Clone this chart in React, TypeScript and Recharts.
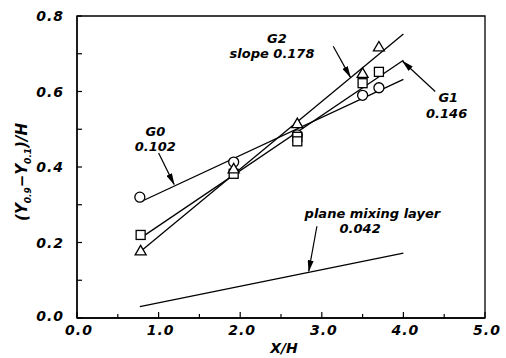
import React from "react";
import {
  ComposedChart,
  Line,
  Scatter,
  XAxis,
  YAxis,
  ReferenceArea,
  ReferenceLine,
  ReferenceDot,
} from "recharts";

// measured points
const g0X = [0.77, 1.92, 2.7, 3.5, 3.7];
const g0Y = [0.32, 0.413, 0.485, 0.59, 0.61];
const g1X = [0.78, 1.92, 2.7, 2.7, 3.5, 3.7];
const g1Y = [0.22, 0.382, 0.48, 0.468, 0.622, 0.652];
const g2X = [0.78, 1.92, 2.7, 3.5, 3.7];
const g2Y = [0.178, 0.395, 0.515, 0.648, 0.718];

// fitted lines (end points)
const fitX = [0.8, 4.0];
const g0FitY = [0.31, 0.632];
const g1FitY = [0.215, 0.683];
const g2FitX = [0.77, 4.0];
const g2FitY = [0.175, 0.752];
const planeX = [0.77, 4.0];
const planeY = [0.03, 0.172];

const xTicks = [0, 0.5, 1, 1.5, 2, 2.5, 3, 3.5, 4, 4.5, 5];
const yTicks = [0, 0.1, 0.2, 0.3, 0.4, 0.5, 0.6, 0.7, 0.8];

const toPts = (xs: number[], ys: number[]) => xs.map((x, i) => ({ x, y: ys[i] }));

const FONT = "'DejaVu Sans', sans-serif";
const textStyle = {
  fontFamily: FONT,
  fontWeight: "bold" as const,
  fontStyle: "italic" as const,
  fill: "#000",
};

const Circle = (p: any) => (
  <circle cx={p.cx} cy={p.cy} r={5} fill="#fff" stroke="#000" strokeWidth={1.3} />
);
const Square = (p: any) => (
  <rect x={p.cx - 4.5} y={p.cy - 4.5} width={9} height={9} fill="#fff" stroke="#000" strokeWidth={1.3} />
);
const Triangle = (p: any) => (
  <path
    d={`M${p.cx},${p.cy - 5.5} L${p.cx + 5.5},${p.cy + 4} L${p.cx - 5.5},${p.cy + 4} Z`}
    fill="#fff"
    stroke="#000"
    strokeWidth={1.3}
  />
);

const XTick = (p: any) => {
  const v = p.payload.value;
  const major = Math.abs(v - Math.round(v)) < 1e-6;
  return (
    <g>
      <line x1={p.x} y1={p.y} x2={p.x} y2={p.y - (major ? 6 : 4)} stroke="#000" strokeWidth={1.2} />
      {major && (
        <text x={p.x + 2} y={p.y + 17} textAnchor="middle" fontSize={14} letterSpacing={1} {...textStyle}>
          {v.toFixed(1)}
        </text>
      )}
    </g>
  );
};

const YTick = (p: any) => {
  const v = p.payload.value;
  const major = Math.abs(v * 5 - Math.round(v * 5)) < 1e-6;
  return (
    <g>
      <line x1={p.x} y1={p.y} x2={p.x + 5} y2={p.y} stroke="#000" strokeWidth={1.2} />
      {major && (
        <text x={p.x - 13} y={p.y + (v === 0 ? 3 : 5)} textAnchor="end" fontSize={14} letterSpacing={1} {...textStyle}>
          {v.toFixed(1)}
        </text>
      )}
    </g>
  );
};

const Note = ({ x, y, text }: { x: number; y: number; text: string }) => (
  <ReferenceDot
    x={x}
    y={y}
    r={0}
    stroke="none"
    fill="none"
    label={{ value: text, position: "center", fontSize: 13, ...textStyle }}
  />
);

const Arrow = ({ from, to }: { from: [number, number]; to: [number, number] }) => (
  <ReferenceLine
    segment={[
      { x: from[0], y: from[1] },
      { x: to[0], y: to[1] },
    ]}
    stroke="#000"
    strokeWidth={1.2}
    markerEnd="url(#arrowHead)"
  />
);

export default function App() {
  return (
    <div style={{ position: "absolute", left: 0, top: 0, width: 506, height: 358, background: "#fff" }}>
      <svg width={0} height={0} style={{ position: "absolute" }}>
        <defs>
          <marker id="arrowHead" markerWidth="12" markerHeight="6" refX="11" refY="3" orient="auto" markerUnits="userSpaceOnUse">
            <path d="M0,0 L12,3 L0,6 Z" fill="#000" />
          </marker>
        </defs>
      </svg>
      <ComposedChart width={506} height={358} margin={{ top: 16, right: 21, bottom: 0, left: 0 }}>
        <XAxis
          dataKey="x"
          type="number"
          domain={[0, 5]}
          ticks={xTicks}
          interval={0}
          height={40}
          tickSize={0}
          tickMargin={0}
          tick={<XTick />}
          axisLine={{ stroke: "#000", strokeWidth: 1.3 }}
          allowDataOverflow
          label={{
            content: () => (
              <text x={284} y={353} textAnchor="middle" fontSize={14} {...textStyle}>
                X/H
              </text>
            ),
          }}
        />
        <YAxis
          dataKey="y"
          type="number"
          domain={[0, 0.8]}
          ticks={yTicks}
          interval={0}
          width={77}
          tickSize={0}
          tickMargin={0}
          tick={<YTick />}
          axisLine={{ stroke: "#000", strokeWidth: 1.3 }}
          allowDataOverflow
          label={{
            content: () => (
              <text x={27} y={172} transform="rotate(-90, 27, 172)" textAnchor="middle" fontSize={15} {...textStyle}>
                (Y<tspan fontSize={9} dy={4}>0.9</tspan>
                <tspan dy={-4}>−Y</tspan>
                <tspan fontSize={9} dy={4}>0.1</tspan>
                <tspan dy={-4}>)/H</tspan>
              </text>
            ),
          }}
        />
        <ReferenceArea x1={0} x2={5} y1={0} y2={0.8} fill="none" stroke="#000" strokeWidth={1.3} />

        <Line data={toPts(fitX, g0FitY)} dataKey="y" stroke="#000" strokeWidth={1.3} dot={false} isAnimationActive={false} />
        <Line data={toPts(fitX, g1FitY)} dataKey="y" stroke="#000" strokeWidth={1.3} dot={false} isAnimationActive={false} />
        <Line data={toPts(g2FitX, g2FitY)} dataKey="y" stroke="#000" strokeWidth={1.3} dot={false} isAnimationActive={false} />
        <Line data={toPts(planeX, planeY)} dataKey="y" stroke="#000" strokeWidth={1.3} dot={false} isAnimationActive={false} />

        <Scatter data={toPts(g0X, g0Y)} dataKey="y" shape={Circle} isAnimationActive={false} />
        <Scatter data={toPts(g1X, g1Y)} dataKey="y" shape={Square} isAnimationActive={false} />
        <Scatter data={toPts(g2X, g2Y)} dataKey="y" shape={Triangle} isAnimationActive={false} />

        <Note x={0.96} y={0.494} text="G0" />
        <Note x={0.96} y={0.455} text="0.102" />
        <Arrow from={[1.0, 0.437]} to={[1.19, 0.354]} />

        <Note x={2.45} y={0.742} text="G2" />
        <Note x={2.39} y={0.702} text="slope 0.178" />
        <Arrow from={[3.14, 0.72]} to={[3.35, 0.638]} />

        <Note x={4.55} y={0.585} text="G1" />
        <Note x={4.53} y={0.543} text="0.146" />
        <Arrow from={[4.39, 0.6]} to={[3.99, 0.68]} />

        <Note x={3.62} y={0.278} text="plane mixing layer" />
        <Note x={3.47} y={0.238} text="0.042" />
        <Arrow from={[2.94, 0.243]} to={[2.84, 0.124]} />
      </ComposedChart>
    </div>
  );
}
